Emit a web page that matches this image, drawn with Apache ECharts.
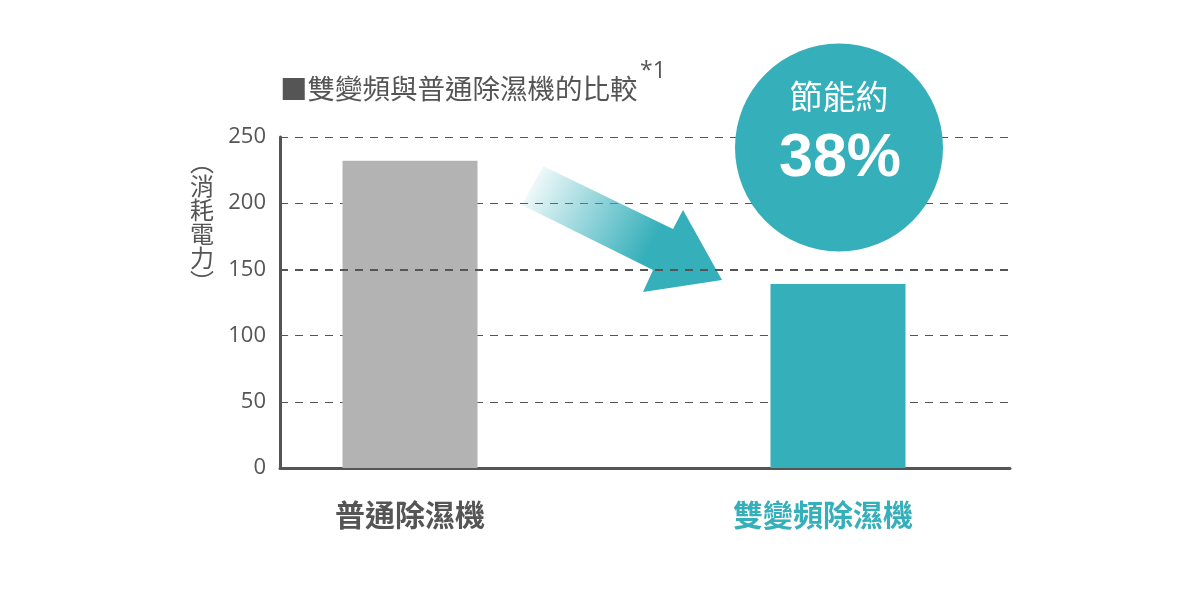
<!DOCTYPE html>
<html>
<head>
<meta charset="utf-8">
<script src="https://cdn.jsdelivr.net/npm/echarts@6/dist/echarts.min.js"></script>
<style>
  html,body{margin:0;padding:0;background:#fff;}
  #main{width:1200px;height:610px;}
</style>
</head>
<body>
<div id="main"></div>
<script>
    // 資料
    var categories = ['普通除濕機', '雙變頻除濕機'];
    var values = [232, 139];
    var barColors = ['#B3B3B3', '#35AFBA'];
    var labelColors = ['#555555', '#35AFBA'];
    var yTicks = [0, 50, 100, 150, 200, 250];
    var boldLine = 150;

    var teal = '#35AFBA';
    var gray = '#555555';
    var cjk = '"Noto Sans CJK TC", "Noto Sans CJK SC", sans-serif';

    var myChart = echarts.init(document.getElementById('main'));

    var option = {
        backgroundColor: '#fff',
        animation: false,
        grid: [
            // 座標軸用
            { left: 280, width: 730, top: 137, height: 331 },
            // 柱形用
            { left: 196, width: 856, top: 137, height: 331 }
        ],
        xAxis: [
            {
                gridIndex: 0,
                type: 'value',
                min: 0,
                max: 1,
                axisLine: { show: true, lineStyle: { color: gray, width: 3 } },
                axisTick: { show: false },
                axisLabel: { show: false },
                splitLine: { show: false }
            },
            {
                gridIndex: 1,
                type: 'category',
                data: categories,
                axisLine: { show: false },
                axisTick: { show: false },
                axisLabel: {
                    margin: 32,
                    formatter: function (v, i) {
                        return '{c' + i + '|' + v + '}';
                    },
                    rich: {
                        c0: { color: labelColors[0], fontSize: 30, fontWeight: 'bold', fontFamily: cjk },
                        c1: { color: labelColors[1], fontSize: 30, fontWeight: 'bold', fontFamily: cjk, padding: [0, 30, 0, 0] }
                    }
                }
            }
        ],
        yAxis: [
            {
                gridIndex: 0,
                type: 'value',
                min: yTicks[0],
                max: yTicks[yTicks.length - 1],
                interval: yTicks[1] - yTicks[0],
                axisLine: { show: true, lineStyle: { color: gray, width: 3 } },
                axisTick: { show: true, inside: true, length: 4, lineStyle: { color: gray } },
                axisLabel: {
                    margin: 14,
                    color: gray,
                    fontSize: 22,
                    fontFamily: '"Open Sans", sans-serif'
                },
                splitLine: {
                    show: true,
                    lineStyle: { color: gray, width: 1, type: [8, 7] }
                }
            },
            {
                gridIndex: 1,
                type: 'value',
                min: yTicks[0],
                max: yTicks[yTicks.length - 1],
                show: false
            }
        ],
        series: [
            {
                type: 'bar',
                xAxisIndex: 1,
                yAxisIndex: 1,
                barWidth: 135,
                z: 3,
                data: values.map(function (v, i) {
                    return { value: v, itemStyle: { color: barColors[i] } };
                })
            },
            {
                // 150 的粗虛線
                type: 'line',
                xAxisIndex: 0,
                yAxisIndex: 0,
                data: [],
                z: 2,
                markLine: {
                    silent: true,
                    symbol: 'none',
                    label: { show: false },
                    lineStyle: { color: gray, width: 2, type: [8, 7] },
                    data: [{ yAxis: boldLine }]
                }
            }
        ],
        graphic: [
            // 標題
            {
                type: 'text',
                left: 280,
                top: 75,
                style: {
                    text: '■雙變頻與普通除濕機的比較',
                    fill: gray,
                    fontSize: 27.5,
                    fontFamily: cjk
                }
            },
            {
                type: 'text',
                left: 640,
                top: 60,
                style: { text: '*1', fill: gray, fontSize: 23, fontFamily: '"Open Sans", sans-serif' }
            },
            // 縱軸名稱
            {
                type: 'text',
                left: 190,
                top: 150,
                style: {
                    text: '︵\n消\n耗\n電\n力\n︶',
                    fill: gray,
                    fontSize: 24,
                    lineHeight: 24,
                    fontFamily: cjk
                }
            },
            // 箭頭
            {
                type: 'polygon',
                z: 5,
                shape: {
                    points: [[543, 166], [673, 229], [683, 210], [722, 280], [643, 292], [653, 270], [522, 205]]
                },
                style: {
                    fill: new echarts.graphic.LinearGradient(0, 0.1, 0.75, 0.75, [
                        { offset: 0, color: 'rgba(53,175,186,0)' },
                        { offset: 0.85, color: 'rgba(53,175,186,1)' },
                        { offset: 1, color: 'rgba(53,175,186,1)' }
                    ])
                }
            },
            // 圓形標示
            {
                type: 'circle',
                z: 5,
                shape: { cx: 839, cy: 147.5, r: 104 },
                style: { fill: teal }
            },
            {
                type: 'text',
                z: 6,
                x: 839,
                y: 96,
                style: {
                    text: '節能約',
                    fill: '#fff',
                    fontSize: 33,
                    fontFamily: cjk,
                    align: 'center',
                    verticalAlign: 'middle'
                }
            },
            {
                type: 'text',
                z: 6,
                x: 840,
                y: 159,
                style: {
                    text: '38%',
                    fill: '#fff',
                    fontSize: 61,
                    fontWeight: 'bold',
                    fontFamily: '"Liberation Sans", Arial, sans-serif',
                    align: 'center',
                    verticalAlign: 'middle'
                }
            }
        ]
    };

    myChart.setOption(option);
</script>
</body>
</html>
